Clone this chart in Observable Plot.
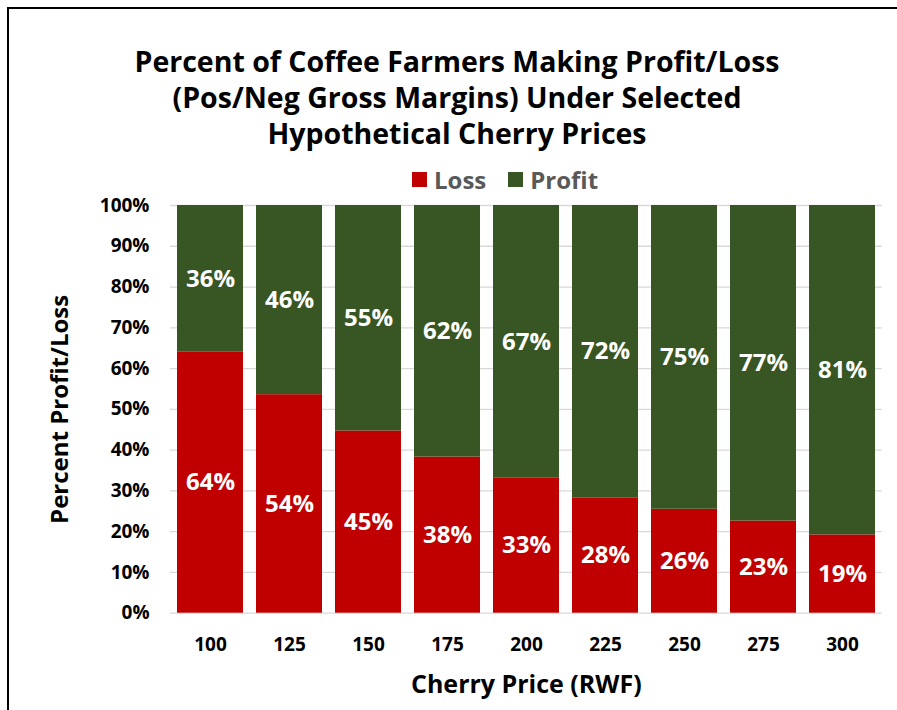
<!DOCTYPE html>
<html>
<head>
<meta charset="utf-8">
<script src="https://cdn.jsdelivr.net/npm/d3@7"></script>
<script src="https://cdn.jsdelivr.net/npm/@observablehq/plot@0.6"></script>
<style>
  html, body { margin: 0; padding: 0; background: #fff; }
  #wrap { position: relative; width: 897px; height: 710px; overflow: hidden; font-family: "Open Sans", sans-serif; }
  #frame { position: absolute; left: 7px; top: 7px; width: 950px; height: 760px; border-left: 2px solid #000; border-top: 2px solid #000; box-sizing: border-box; }
  #title { position: absolute; left: 0; top: 43px; width: 914px; text-align: center; font-weight: 700; font-size: 28.5px; line-height: 36px; color: #000; }
  #legend { position: absolute; left: 412px; top: 163px; height: 32px; display: flex; align-items: center; font-weight: 700; font-size: 24px; color: #595959; }
  #legend .sw { width: 15px; height: 15px; display: inline-block; margin-right: 7px; }
  #legend .item { display: flex; align-items: center; margin-right: 22px; }
  #chart { position: absolute; left: 0; top: 190px; }
</style>
</head>
<body>
<div id="wrap">
  <div id="frame"></div>
  <div id="title">Percent of Coffee Farmers Making Profit/Loss<br>(Pos/Neg Gross Margins) Under Selected<br>Hypothetical Cherry Prices</div>
  <div id="legend"></div>
  <div id="chart"></div>
</div>
<script>
const prices = ["100", "125", "150", "175", "200", "225", "250", "275", "300"];
const loss   = [64.0, 53.6, 44.7, 38.3, 33.1, 28.3, 25.5, 22.6, 19.2];
const profit = [36.0, 46.4, 55.3, 61.7, 66.9, 71.7, 74.5, 77.4, 80.8];
const seriesNames  = ["Loss", "Profit"];
const seriesColors = ["#C00000", "#375623"];
const yTicks = [0, 10, 20, 30, 40, 50, 60, 70, 80, 90, 100];
const xTitle = "Cherry Price (RWF)";
const yTitle = "Percent Profit/Loss";

const data = prices.flatMap((p, i) => [
  {price: p, series: seriesNames[0], value: loss[i]},
  {price: p, series: seriesNames[1], value: profit[i]}
]);

// legend
const legend = document.getElementById("legend");
seriesNames.forEach((s, i) => {
  const item = document.createElement("span");
  item.className = "item";
  const sw = document.createElement("span");
  sw.className = "sw";
  sw.style.background = seriesColors[i];
  item.appendChild(sw);
  item.appendChild(document.createTextNode(s));
  legend.appendChild(item);
});

const chart = Plot.plot({
  width: 897,
  height: 520,
  marginTop: 15,
  marginBottom: 97.3,
  marginLeft: 170,
  marginRight: 15.3,
  style: {fontFamily: "'Open Sans', sans-serif", background: "transparent", overflow: "visible", color: "#000"},
  x: {domain: prices, paddingInner: 0.17, paddingOuter: 0.085, label: null},
  y: {domain: [0, 100], label: null},
  color: {domain: seriesNames, range: seriesColors},
  marks: [
    Plot.gridY(yTicks, {stroke: "#d9d9d9", strokeOpacity: 1, strokeWidth: 1.3}),
    Plot.barY(data, {x: "price", y: "value", fill: "series"}),
    Plot.text(data, Plot.stackY({
      x: "price", y: "value", z: "series",
      text: d => Math.round(d.value) + "%",
      fill: "white", fontSize: 24, fontWeight: "bold"
    })),
    Plot.axisY(yTicks, {tickSize: 0, tickPadding: 21, tickFormat: d => d + "%", fontSize: 19, fontWeight: "bold", fill: "#000", label: null}),
    Plot.axisY({ticks: [], tickSize: 0, label: yTitle, labelArrow: "none", labelAnchor: "center", labelOffset: 120, fontSize: 24, fontWeight: "bold", fill: "#000"}),
    Plot.axisX({tickSize: 0, tickPadding: 24, fontSize: 19, fontWeight: "bold", fill: "#000", label: null}),
    Plot.axisX({ticks: [], tickSize: 0, label: xTitle, labelArrow: "none", labelAnchor: "center", labelOffset: 80, fontSize: 25, fontWeight: "bold", fill: "#000"})
  ]
});
document.getElementById("chart").appendChild(chart);
</script>
</body>
</html>
